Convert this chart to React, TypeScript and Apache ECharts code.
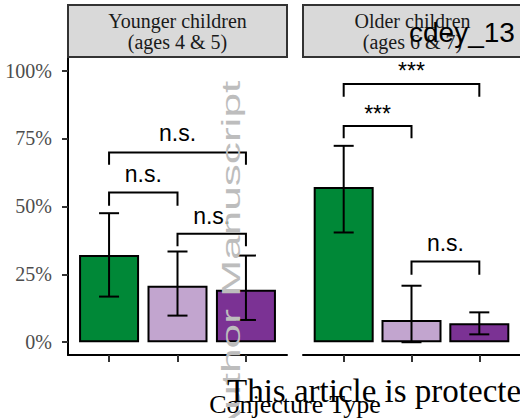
import React, { useEffect, useRef } from 'react';
import * as echarts from 'echarts';

// ---- data ----
const panelTitles = ['Younger children\n(ages 4 & 5)', 'Older children\n(ages 6 & 7)'];
const positions = [1, 2, 3];
const barColors = ['#008837', '#c2a5cf', '#7b3294'];

const youngerValues = [0.321, 0.208, 0.193];
const youngerLower = [0.168, 0.098, 0.082];
const youngerUpper = [0.475, 0.334, 0.319];

const olderValues = [0.571, 0.082, 0.07];
const olderLower = [0.404, 0.0, 0.029];
const olderUpper = [0.723, 0.208, 0.11];

const yTicks = [0, 0.25, 0.5, 0.75, 1];

// brackets: [from, to, level, tip end, label level]
const youngerBrackets = [
  [1, 3, 0.698, 0.653, 0.77],
  [1, 2, 0.551, 0.502, 0.618],
  [2, 3, 0.399, 0.353, 0.463],
];
const youngerBracketLabels = ['n.s.', 'n.s.', 'n.s.'];
const olderBrackets = [
  [1, 3, 0.951, 0.904, 0.999],
  [1, 2, 0.796, 0.751, 0.839],
  [2, 3, 0.297, 0.248, 0.366],
];
const olderBracketLabels = ['***', '***', 'n.s.'];

const xTitle = 'Conjecture Type';

export default function App() {
  const ref = useRef<HTMLDivElement>(null);
  useEffect(() => {
    if (!ref.current) return;
    const chart = echarts.init(ref.current, null, { renderer: 'svg' });

    const yMin = -0.047;
    const yMax = 1.05;

    const mkY = (gi: number, show: boolean) => ({
      type: 'value',
      gridIndex: gi,
      min: yMin,
      max: yMax,
      show,
      splitLine: { show: false },
      axisLine: { show: true, onZero: false, lineStyle: { color: '#000', width: 2 } },
      axisTick: {
        show: true,
        customValues: yTicks,
        length: 6,
        lineStyle: { color: '#333', width: 2 },
      },
      axisLabel: {
        show: true,
        customValues: yTicks,
        margin: 16,
        formatter: (v: number) => Math.round(v * 100) + '%',
        fontFamily: 'Liberation Serif',
        fontSize: 20,
        color: '#4d4d4d',
      },
    });
    const mkX = (gi: number) => ({
      type: 'value',
      gridIndex: gi,
      min: 0.4,
      max: 3.6,
      splitLine: { show: false },
      axisLine: { show: true, onZero: false, lineStyle: { color: '#000', width: 2 } },
      axisTick: {
        show: true,
        customValues: positions,
        length: 7,
        lineStyle: { color: '#333', width: 2 },
      },
      axisLabel: { show: false },
    });

    const barSeries = (gi: number, vals: number[]) => ({
      type: 'bar',
      xAxisIndex: gi,
      yAxisIndex: gi,
      barWidth: 60,
      data: vals.map((v, i) => ({
        value: [positions[i], v],
        itemStyle: { color: barColors[i], borderColor: '#000', borderWidth: 2 },
      })),
      z: 2,
    });

    const errSeries = (gi: number, lo: number[], hi: number[]) => ({
      type: 'custom',
      xAxisIndex: gi,
      yAxisIndex: gi,
      encode: { x: 0, y: [1, 2] },
      data: positions.map((p, i) => [p, lo[i], hi[i]]),
      z: 3,
      renderItem: (params: any, api: any) => {
        const x = api.value(0);
        const a = api.coord([x, api.value(1)]);
        const b = api.coord([x, api.value(2)]);
        const hw = 10;
        const st = { stroke: '#000', lineWidth: 2 };
        return {
          type: 'group',
          children: [
            { type: 'line', shape: { x1: a[0], y1: a[1], x2: b[0], y2: b[1] }, style: st },
            { type: 'line', shape: { x1: b[0] - hw, y1: b[1], x2: b[0] + hw, y2: b[1] }, style: st },
            { type: 'line', shape: { x1: a[0] - hw, y1: a[1], x2: a[0] + hw, y2: a[1] }, style: st },
          ],
        };
      },
    });

    const bracketSeries = (gi: number, rows: number[][], labels: string[]) => ({
      type: 'custom',
      xAxisIndex: gi,
      yAxisIndex: gi,
      encode: { x: [0, 1], y: [2, 3, 4] },
      data: rows,
      z: 4,
      renderItem: (params: any, api: any) => {
        const from = api.value(0);
        const to = api.value(1);
        const lvl = api.value(2);
        const tip = api.value(3);
        const ly = api.value(4);
        const p1 = api.coord([from, tip]);
        const p2 = api.coord([from, lvl]);
        const p3 = api.coord([to, lvl]);
        const p4 = api.coord([to, tip]);
        const lp = api.coord([(from + to) / 2, ly]);
        return {
          type: 'group',
          children: [
            {
              type: 'polyline',
              shape: { points: [p1, p2, p3, p4] },
              style: { stroke: '#000', lineWidth: 2, fill: 'none', lineJoin: 'miter' },
            },
            {
              type: 'text',
              x: lp[0],
              y: lp[1],
              style: {
                text: labels[params.dataIndex],
                fill: '#000',
                fontFamily: 'Liberation Sans',
                fontSize: 23,
                align: 'center',
                verticalAlign: 'middle',
                textAlign: 'center',
                textVerticalAlign: 'middle',
              },
            },
          ],
        };
      },
    });

    const stripText = (x: number, text: string) => ({
      type: 'text',
      x,
      y: 31,
      z: 10,
      style: {
        text,
        fill: '#1a1a1a',
        fontFamily: 'Liberation Serif',
        fontSize: 20,
        lineHeight: 21,
        align: 'center',
        verticalAlign: 'middle',
        textAlign: 'center',
        textVerticalAlign: 'middle',
      },
    });

    chart.setOption({
      animation: false,
      backgroundColor: '#fff',
      grid: [
        { left: 68, top: 57, width: 219, height: 298 },
        { left: 303, top: 57, width: 219, height: 298 },
      ],
      xAxis: [mkX(0), mkX(1)],
      yAxis: [mkY(0, true), { ...mkY(1, false) }],
      series: [
        barSeries(0, youngerValues),
        barSeries(1, olderValues),
        errSeries(0, youngerLower, youngerUpper),
        errSeries(1, olderLower, olderUpper),
        bracketSeries(0, youngerBrackets, youngerBracketLabels),
        bracketSeries(1, olderBrackets, olderBracketLabels),
      ],
      graphic: [
        {
          type: 'rect',
          z: 9,
          shape: { x: 68, y: 5, width: 219, height: 52 },
          style: { fill: '#d9d9d9', stroke: '#333', lineWidth: 2 },
        },
        {
          type: 'rect',
          z: 9,
          shape: { x: 303, y: 5, width: 222, height: 52 },
          style: { fill: '#d9d9d9', stroke: '#333', lineWidth: 2 },
        },
        stripText(177.5, panelTitles[0]),
        stripText(412.5, panelTitles[1]),
        {
          type: 'text',
          x: 295,
          y: 404,
          z: 10,
          style: {
            text: xTitle,
            fill: '#000',
            fontFamily: 'Liberation Serif',
            fontSize: 26,
            align: 'center',
            verticalAlign: 'middle',
            textAlign: 'center',
            textVerticalAlign: 'middle',
          },
        },
        {
          type: 'text',
          x: 231,
          y: 260,
          z: 20,
          rotation: Math.PI / 2,
          scaleX: 1.7,
          style: {
            text: 'Author Manuscript',
            fill: '#bdbdbd',
            fontFamily: 'Liberation Sans',
            fontSize: 26,
            align: 'center',
            verticalAlign: 'middle',
            textAlign: 'center',
            textVerticalAlign: 'middle',
          },
        },
        {
          type: 'text',
          x: 409,
          y: 32,
          z: 20,
          style: {
            text: 'cdey_13',
            fill: '#000',
            fontFamily: 'Liberation Sans',
            fontSize: 28,
            align: 'left',
            verticalAlign: 'middle',
            textAlign: 'left',
            textVerticalAlign: 'middle',
          },
        },
        {
          type: 'text',
          x: 227,
          y: 391,
          z: 20,
          style: {
            text: 'This article is protected by copyright. All rights reserved.',
            fill: '#000',
            fontFamily: 'Liberation Serif',
            fontSize: 33,
            align: 'left',
            verticalAlign: 'middle',
            textAlign: 'left',
            textVerticalAlign: 'middle',
          },
        },
      ],
    });
    return () => chart.dispose();
  }, []);
  return (
    <div
      ref={ref}
      style={{ position: 'absolute', left: 0, top: 0, width: 520, height: 418 }}
    />
  );
}
